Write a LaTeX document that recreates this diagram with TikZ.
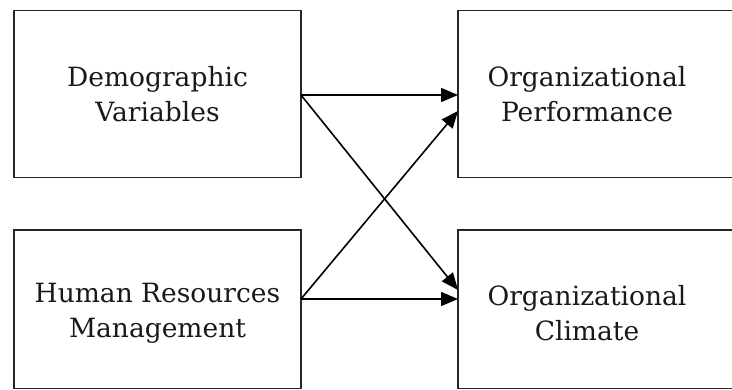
\documentclass[tikz,border=0pt]{standalone}
\usepackage{fontspec}
\setmainfont{DejaVu Serif}
\usetikzlibrary{arrows.meta}
\begin{document}
\begin{tikzpicture}[x=1pt,y=-1pt,
  box/.style={draw=black!85,line width=1.7pt,rectangle},
  lbl/.style={align=center,font=\fontsize{26.5}{35}\selectfont,text=black!90,inner sep=0pt},
  conn/.style={line width=1.6pt,-{Triangle[length=17pt,width=14pt]}}]
\clip (0,0) rectangle (732,389);
\fill[white] (0,0) rectangle (732,389);
\node[box,minimum width=287pt,minimum height=167pt] (dvb) at (157.5,94) {};
\node[box,minimum width=287pt,minimum height=158.5pt] (hrb) at (157.5,309.25) {};
\node[box,minimum width=287pt,minimum height=167pt] (opb) at (601.5,94) {};
\node[box,minimum width=287pt,minimum height=158.5pt] (ocb) at (601.5,309.25) {};
\node[lbl] (dv) at (157.5,94) {Demographic\\Variables};
\node[lbl] (hr) at (157.5,313) {Human Resources\\Management};
\node[lbl] (op) at (587,94) {Organizational\\Performance};
\node[lbl] (oc) at (587,313) {Organizational\\Climate};
\coordinate (s1) at (301,95);
\coordinate (s2) at (301,299);
\coordinate (t1) at (458,95);
\coordinate (t2) at (458,111);
\coordinate (t3) at (458,290);
\coordinate (t4) at (458,299);
\draw[conn] (s1) -- (t1);
\draw[conn] (s1) -- (t3);
\draw[conn] (s2) -- (t2);
\draw[conn] (s2) -- (t4);
\end{tikzpicture}
\end{document}
